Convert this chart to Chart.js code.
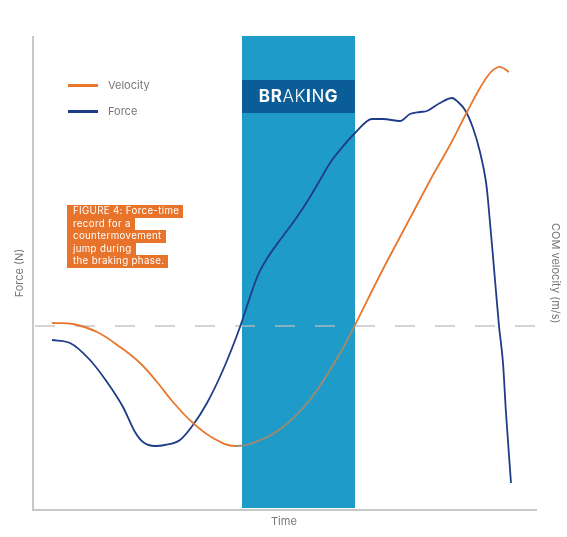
<!DOCTYPE html>
<html>
<head>
<script src="https://cdn.jsdelivr.net/npm/chart.js@4.4.1/dist/chart.umd.min.js"></script>
<style>
    body { margin: 0; background: #fff; font-family: Inter, "Open Sans", sans-serif; }
    #wrap { position: relative; width: 567px; height: 537px; }
    #chart { position: absolute; left: 0; top: 0; }
    .txt { position: absolute; color: #777; font-size: 11px; white-space: nowrap; }
    .leg-line { position: absolute; left: 68px; width: 30px; height: 3px; }
    #braking {
        position: absolute; left: 242px; top: 80px; width: 113px; height: 33px;
        background: #0b5d98; color: #fff; font-size: 17px; line-height: 33px;
        text-align: center; letter-spacing: 0.6px;
    }
    #caption { position: absolute; left: 67px; top: 205px; }
    #caption div {
        width: fit-content; background: #e8732a; color: #fff;
        font-size: 9.7px; line-height: 12.6px; padding: 0 4px 0 6px; white-space: nowrap;
        letter-spacing: 0.35px;
    }
    .rot { position: absolute; color: #777; font-size: 11px; white-space: nowrap; transform-origin: center; }
</style>
</head>
<body>
<div id="wrap">
    <canvas id="chart" width="567" height="537"></canvas>

    <div class="leg-line" style="top:84px; background:#e8762d;"></div>
    <div class="txt" style="left:108px; top:78px;">Velocity</div>
    <div class="leg-line" style="top:110px; background:#1f3c88;"></div>
    <div class="txt" style="left:108px; top:104px;">Force</div>

    <div id="braking"><b style="font-weight:700">BR</b><span style="font-weight:300">AK</span><b style="font-weight:700">I</b><span style="font-weight:400">N</span><b style="font-weight:700">G</b></div>

    <div id="caption">
        <div>FIGURE 4: Force-time</div>
        <div>record for a</div>
        <div>countermovement</div>
        <div>jump during</div>
        <div>the braking phase.</div>
    </div>

    <div class="txt" style="left:271px; top:514px;">Time</div>
    <div class="rot" style="left:-6px; top:266px; width:50px; text-align:center; transform: rotate(-90deg);">Force (N)</div>
    <div class="rot" style="left:506px; top:266px; width:100px; text-align:center; transform: rotate(90deg);">COM velocity (m/s)</div>
</div>
<script>
// time in ms, force in N, velocity in m/s
const forceTime = [18, 36, 56, 73, 89, 101, 109, 121, 131, 146, 159, 173, 189, 206, 216, 224, 234, 246, 263, 276, 286, 296, 306, 321, 338, 349, 366, 376, 386, 393, 406, 418, 424, 431, 439, 446, 452, 454, 461, 465, 469, 472, 477];
const forceValues = [-70, -85, -170, -280, -405, -530, -580, -600, -595, -570, -495, -385, -220, -5, 145, 255, 345, 430, 545, 645, 730, 815, 880, 965, 1035, 1035, 1025, 1060, 1070, 1075, 1115, 1140, 1120, 1080, 990, 870, 720, 630, 230, 0, -185, -435, -785];

const velTime = [18, 39, 63, 86, 106, 123, 139, 159, 179, 201, 229, 249, 269, 283, 296, 309, 321, 346, 366, 383, 399, 416, 433, 446, 456, 464, 469, 475];
const velValues = [0.03, 0.02, -0.06, -0.21, -0.37, -0.56, -0.76, -0.97, -1.12, -1.20, -1.13, -1.01, -0.82, -0.64, -0.44, -0.22, 0.01, 0.51, 0.89, 1.21, 1.51, 1.81, 2.14, 2.38, 2.53, 2.59, 2.58, 2.54];

const brakingStart = 208;
const brakingEnd = 321;

const overlay = {
    id: 'overlay',
    beforeDatasetsDraw(chart) {
        const { ctx, chartArea: a, scales } = chart;
        const x1 = scales.x.getPixelForValue(brakingStart);
        const x2 = scales.x.getPixelForValue(brakingEnd);
        ctx.save();
        ctx.fillStyle = '#1f9bc9';
        ctx.fillRect(x1, a.top, x2 - x1, a.bottom - a.top);

        // axis lines
        ctx.strokeStyle = '#c8c8c8';
        ctx.lineWidth = 2;
        ctx.beginPath();
        ctx.moveTo(a.left - 1, a.top);
        ctx.lineTo(a.left - 1, a.bottom + 2);
        ctx.lineTo(a.right, a.bottom + 2);
        ctx.stroke();

        // zero line
        const y0 = scales.yF.getPixelForValue(0);
        ctx.strokeStyle = '#bdbdbd';
        ctx.lineWidth = 1.3;
        ctx.setLineDash([20, 20]);
        ctx.beginPath();
        ctx.moveTo(a.left + 1, y0);
        ctx.lineTo(a.right, y0);
        ctx.stroke();
        ctx.restore();
    }
};

// orange looks muted where it runs over the braking band
const inBand = c => c.p0.parsed.x >= 200 && c.p1.parsed.x <= brakingEnd;

new Chart(document.getElementById('chart'), {
    type: 'line',
    data: {
        datasets: [{
            label: 'Velocity',
            data: velTime.map((t, i) => ({ x: t, y: velValues[i] })),
            yAxisID: 'yV',
            borderColor: '#e8762d',
            borderWidth: 1.8,
            pointRadius: 0,
            tension: 0.4,
            segment: { borderColor: c => inBand(c) ? '#a08a6e' : undefined }
        }, {
            label: 'Force',
            data: forceTime.map((t, i) => ({ x: t, y: forceValues[i] })),
            yAxisID: 'yF',
            borderColor: '#1f3c88',
            borderWidth: 1.8,
            pointRadius: 0,
            cubicInterpolationMode: 'monotone'
        }]
    },
    options: {
        responsive: false,
        animation: false,
        layout: { padding: { left: 34, right: 30, top: 36, bottom: 29 } },
        scales: {
            x: { type: 'linear', min: 0, max: 503, display: false },
            yF: { min: -910, max: 1450, display: false },
            yV: { min: -1.82, max: 2.90, display: false }
        },
        plugins: {
            legend: { display: false },
            tooltip: { enabled: false }
        }
    },
    plugins: [overlay]
});
</script>
</body>
</html>
